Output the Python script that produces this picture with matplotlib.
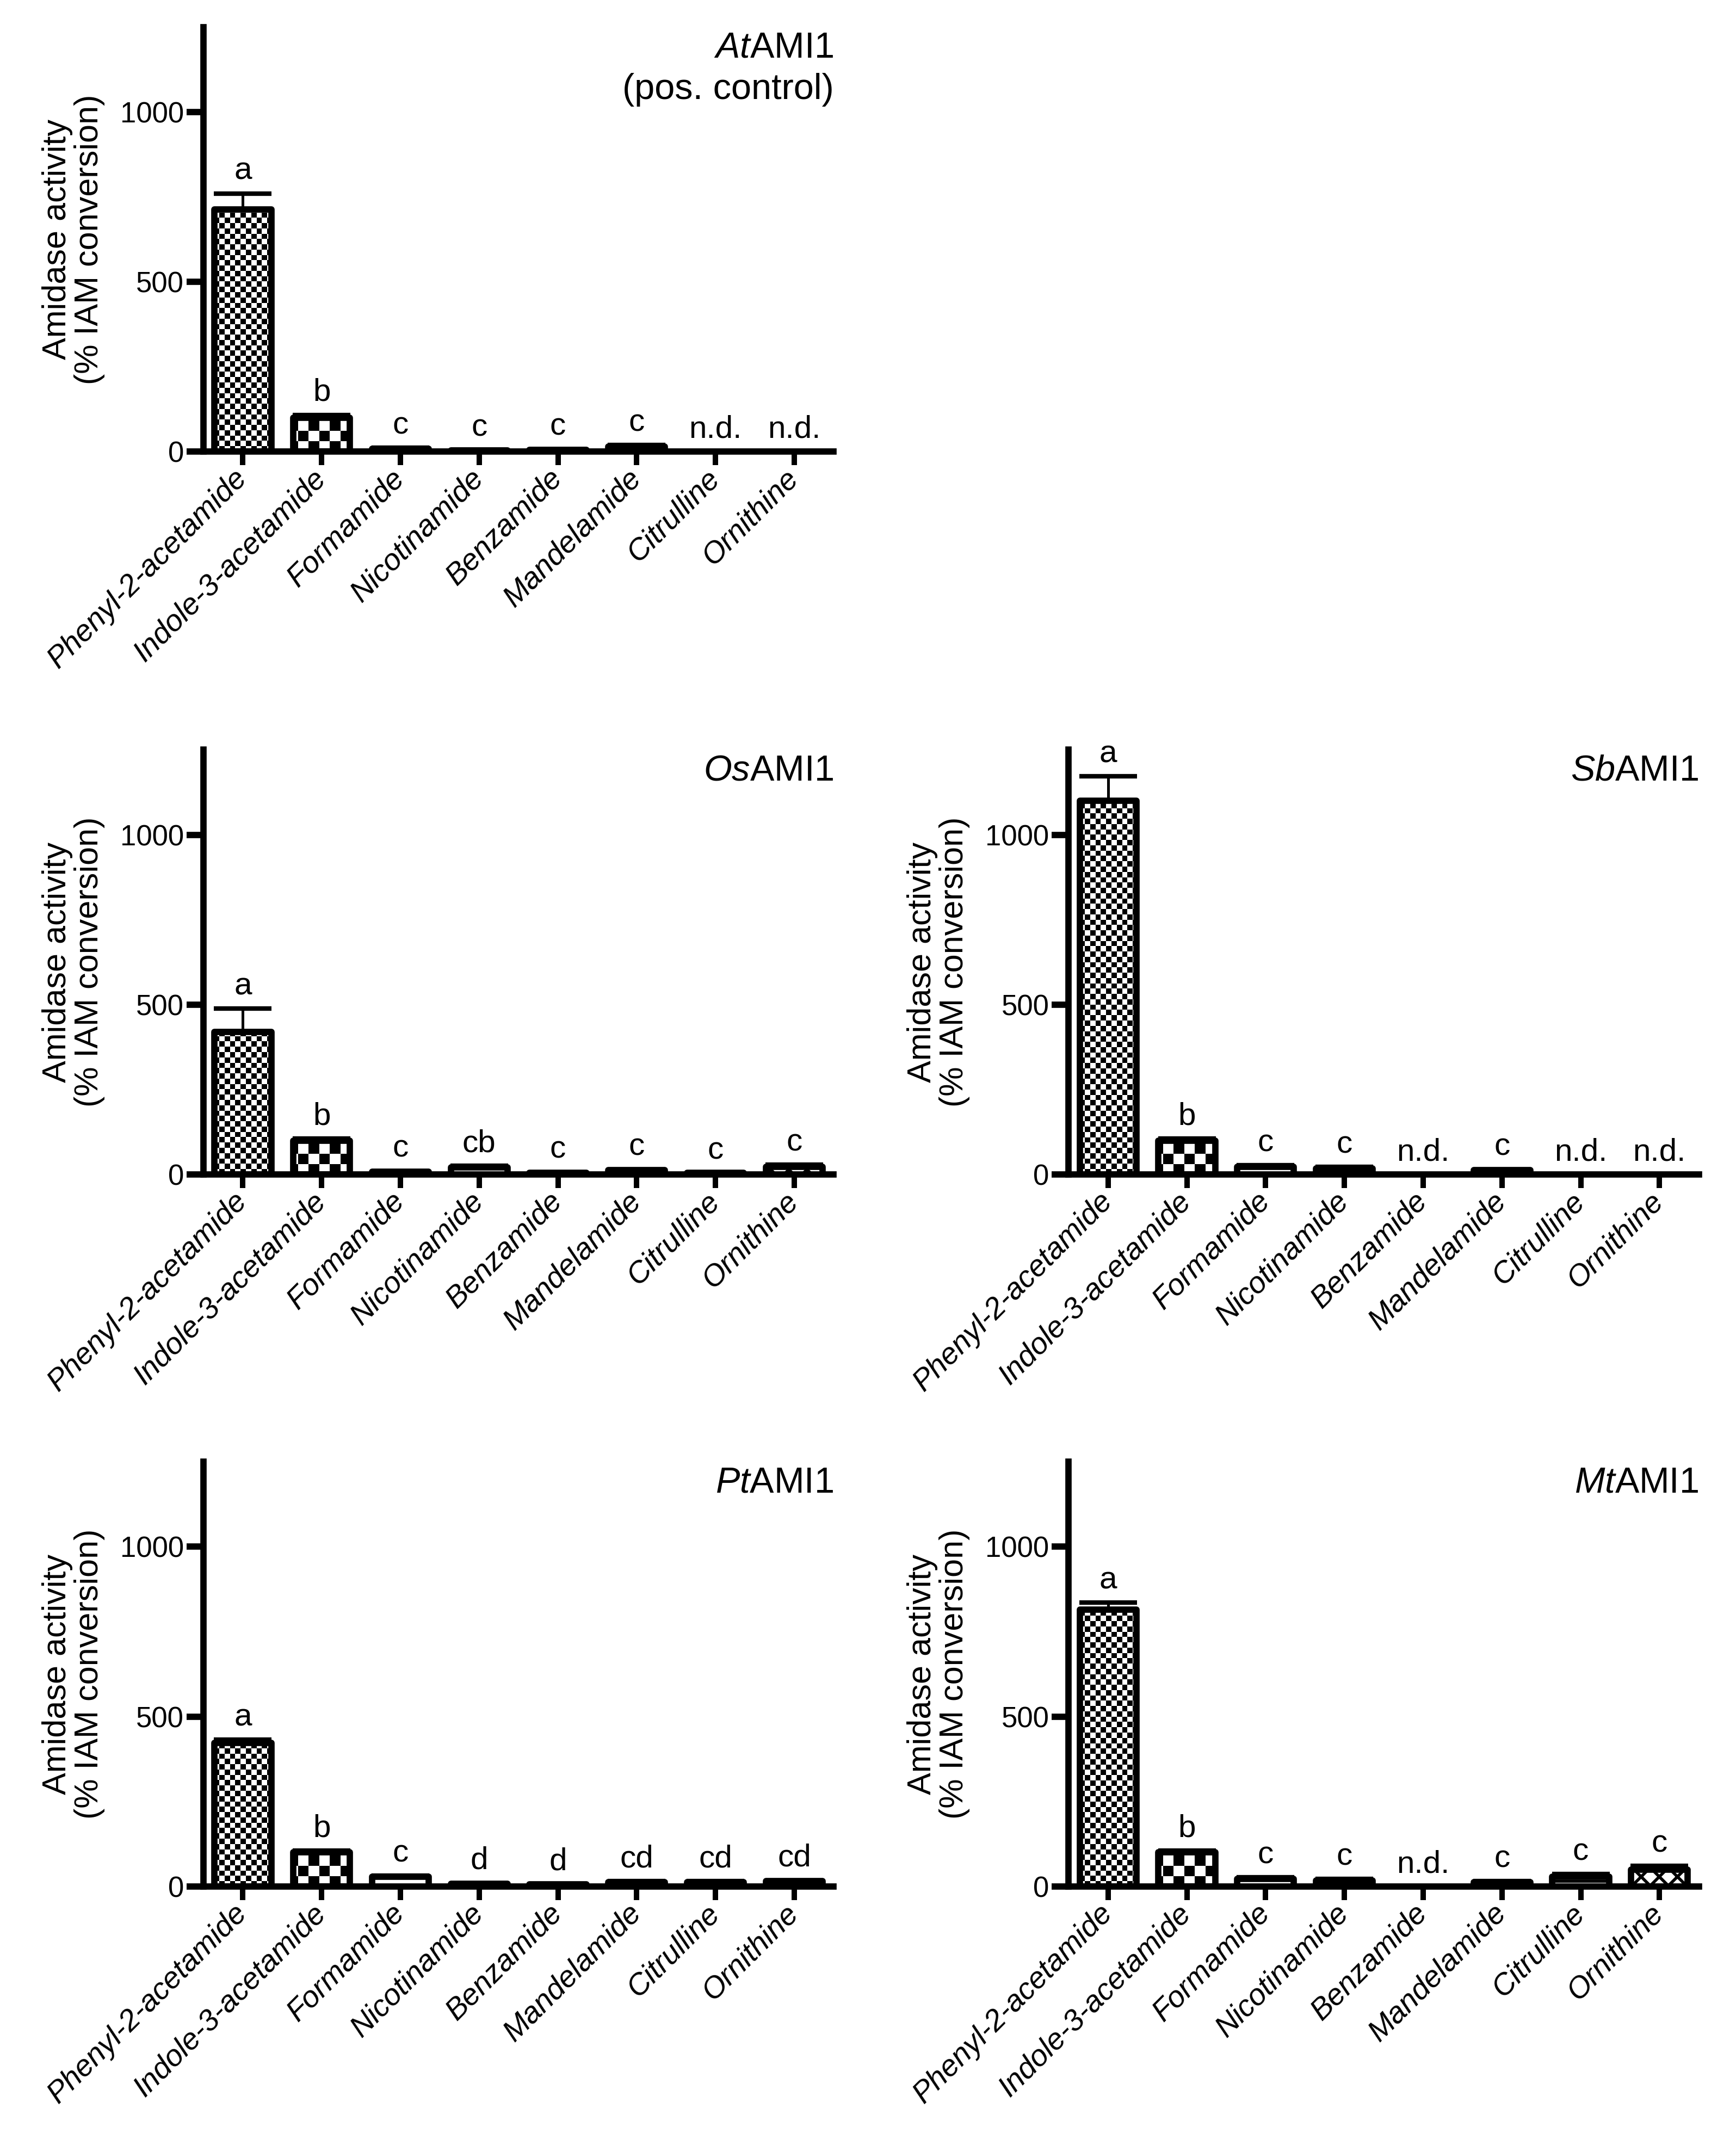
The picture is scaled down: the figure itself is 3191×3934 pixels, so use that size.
import numpy as np
import matplotlib
matplotlib.use('Agg')
import matplotlib.pyplot as plt
from matplotlib import font_manager

# substrates on the x axis (same order in every panel)
substrates = ['Phenyl-2-acetamide', 'Indole-3-acetamide', 'Formamide', 'Nicotinamide',
              'Benzamide', 'Mandelamide', 'Citrulline', 'Ornithine']

# amidase activity (% IAM conversion), upper error, significance letters
at_mean = [712, 100, 8, 4, 5, 15, 0, 0]
at_err = [48, 8, 3, 1, 2, 4, 0, 0]
at_letters = ['a', 'b', 'c', 'c', 'c', 'c', 'n.d.', 'n.d.']

os_mean = [420, 100, 8, 20, 5, 12, 4, 22]
os_err = [68, 5, 2, 5, 2, 3, 1, 6]
os_letters = ['a', 'b', 'c', 'cb', 'c', 'c', 'c', 'c']

sb_mean = [1100, 100, 22, 18, 0, 12, 0, 0]
sb_err = [72, 5, 5, 4, 0, 3, 0, 0]
sb_letters = ['a', 'b', 'c', 'c', 'n.d.', 'c', 'n.d.', 'n.d.']

pt_mean = [422, 100, 28, 8, 6, 12, 12, 15]
pt_err = [10, 5, 3, 2, 1, 3, 3, 3]
pt_letters = ['a', 'b', 'c', 'd', 'd', 'cd', 'cd', 'cd']

mt_mean = [815, 100, 22, 18, 0, 12, 28, 50]
mt_err = [20, 5, 5, 4, 0, 3, 8, 10]
mt_letters = ['a', 'b', 'c', 'c', 'n.d.', 'c', 'c', 'c']

yticks = [0, 500, 1000]

names = {f.name for f in font_manager.fontManager.ttflist}
narrow = 'Liberation Sans Narrow' if 'Liberation Sans Narrow' in names else 'Liberation Sans'

plt.rcParams['font.family'] = ['Liberation Sans', 'DejaVu Sans']
plt.rcParams['mathtext.fontset'] = 'custom'
plt.rcParams['mathtext.rm'] = narrow
plt.rcParams['mathtext.it'] = narrow + ':italic'
plt.rcParams['hatch.linewidth'] = 2.0

fig = plt.figure(figsize=(15.955, 19.67), dpi=200)

panels = [
    ('$\\mathit{At}$AMI1\n(pos. control)', at_mean, at_err, at_letters, [0.1172, 0.789]),
    ('$\\mathit{Os}$AMI1', os_mean, os_err, os_letters, [0.1172, 0.4512]),
    ('$\\mathit{Sb}$AMI1', sb_mean, sb_err, sb_letters, [0.6156, 0.4512]),
    ('$\\mathit{Pt}$AMI1', pt_mean, pt_err, pt_letters, [0.1172, 0.1185]),
    ('$\\mathit{Mt}$AMI1', mt_mean, mt_err, mt_letters, [0.6156, 0.1185]),
]

# fill for each substrate: checker cell size in px, or a hatch
fills = [('checker', 9.7), ('checker', 19.0), ('plain', ''), ('hatch', '--'),
         ('hatch', '...'), ('hatch', '\\\\'), ('hatch', '--'), ('hatch', 'xx')]


def add_checker(ax, bar, cell):
    box = ax.get_window_extent()
    nx = int(box.width / cell)
    ny = int(box.height / cell)
    grid = np.add.outer(np.arange(ny), np.arange(nx)) % 2
    im = ax.imshow(grid, cmap='gray', vmin=0, vmax=1, extent=[0, 1, 0, 1],
                   transform=ax.transAxes, interpolation='nearest', aspect='auto', zorder=2)
    im.set_clip_path(bar)


x = np.arange(len(substrates))
for title, mean, err, letters, pos in panels:
    ax = fig.add_axes([pos[0], pos[1], 0.363, 0.1984])
    lw = [4.2 if m > 0 else 0 for m in mean]
    bars = ax.bar(x, mean, width=0.72, color='white', edgecolor='black', linewidth=lw, zorder=3)
    for b, (kind, val), m in zip(bars, fills, mean):
        b.set_joinstyle('round')
        if m <= 0:
            continue
        if kind == 'checker':
            b.set_facecolor('none')
            add_checker(ax, b, val)
        elif kind == 'hatch':
            b.set_hatch(val)
    ax.errorbar(x, mean, yerr=[np.zeros(len(err)), err], fmt='none', ecolor='black',
                elinewidth=1.8, capsize=19, capthick=3.0, zorder=4)
    for xi, m, e, lab in zip(x, mean, err, letters):
        ax.text(xi, m + e + 22, lab, ha='center', va='bottom', fontsize=21, family=narrow)

    ax.set_xlim(-0.5, 7.5)
    ax.set_ylim(0, 1250)
    ax.set_yticks(yticks)
    ax.set_xticks(x)
    ax.set_xticklabels(substrates, rotation=45, ha='right', va='center',
                       rotation_mode='anchor', fontsize=20, style='italic')
    for t in ax.get_yticklabels():
        t.set_family(narrow)
        t.set_fontsize(19)
    ax.tick_params(axis='y', length=11, width=4.2, pad=2)
    ax.tick_params(axis='x', length=9, width=3.6, pad=6)
    for s in ['top', 'right']:
        ax.spines[s].set_visible(False)
    for s in ['left', 'bottom']:
        ax.spines[s].set_linewidth(4.2)
    ax.set_ylabel('Amidase activity\n(% IAM conversion)', fontsize=22, labelpad=10, linespacing=1.05)
    ax.text(1.0, 0.99, title, transform=ax.transAxes, ha='right', va='top',
            fontsize=24, family=narrow, linespacing=1.3, multialignment='right')

fig.savefig('out.png', dpi=200)
